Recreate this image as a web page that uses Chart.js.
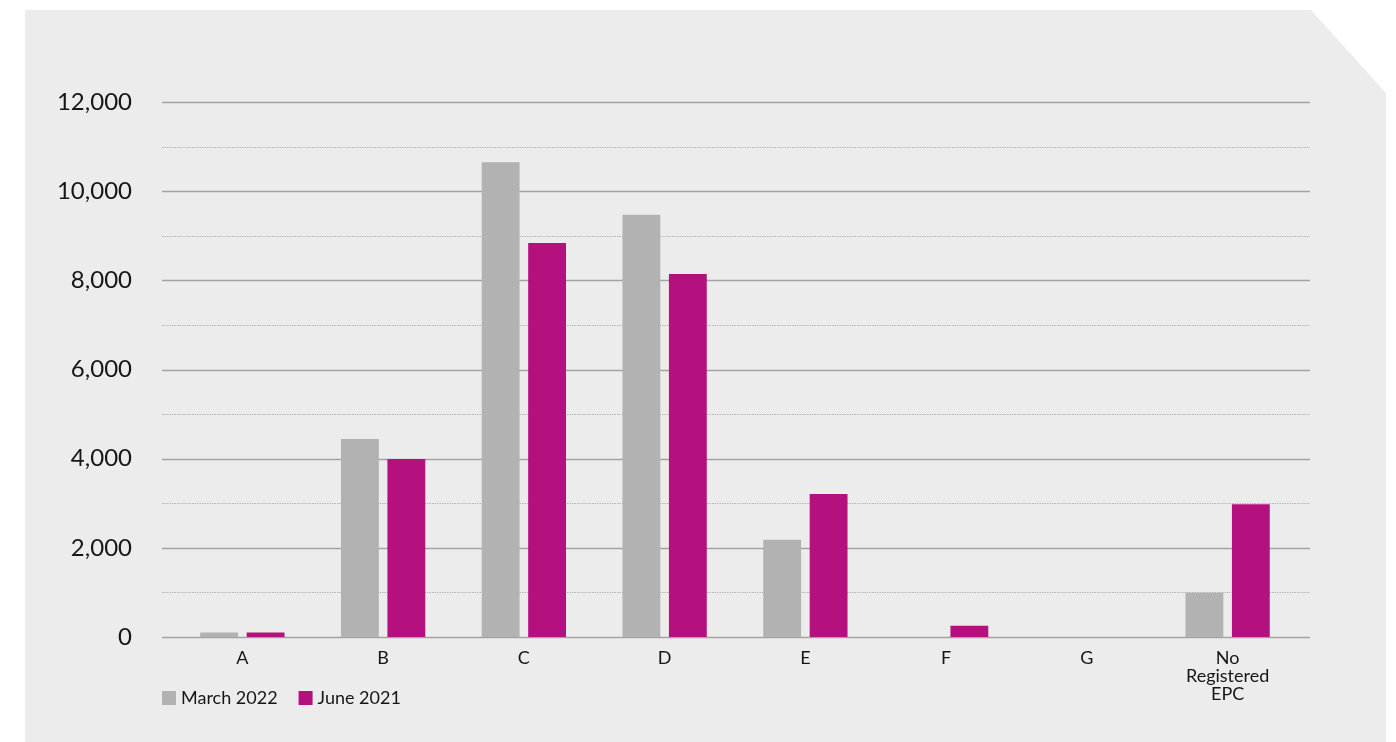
<!DOCTYPE html>
<html>
<head>
<meta charset="utf-8">
<script src="https://cdn.jsdelivr.net/npm/chart.js@4/dist/chart.umd.min.js"></script>
<style>
  html, body { margin: 0; padding: 0; background: #ffffff; }
  #wrap { position: relative; width: 1396px; height: 742px; }
</style>
</head>
<body>
<div id="wrap"><canvas id="epc" width="1396" height="742"></canvas></div>
<script>
// EPC rating counts by band
const categories = ['A', 'B', 'C', 'D', 'E', 'F', 'G', ['No', 'Registered', 'EPC']];
const march2022 = [100, 4440, 10650, 9470, 2180, 0, 0, 990];
const june2021 = [100, 3990, 8840, 8140, 3210, 250, 0, 2980];
const seriesNames = ['March 2022', 'June 2021'];
const seriesColors = ['#b2b2b2', '#b5117e'];
const yMin = 0;
const yMax = 12000;
const yMajorStep = 2000;
const yMinorStep = 1000;

const FONT = 'Lato, "Open Sans", sans-serif';
const TEXT = '#161616';

// Grey panel with a clipped top-right corner
const panelPlugin = {
  id: 'panel',
  beforeDraw(chart) {
    const ctx = chart.ctx;
    ctx.save();
    ctx.fillStyle = '#ececec';
    ctx.beginPath();
    ctx.moveTo(25, 10);
    ctx.lineTo(1311, 10);
    ctx.lineTo(1386, 93);
    ctx.lineTo(1386, 742);
    ctx.lineTo(25, 742);
    ctx.closePath();
    ctx.fill();
    ctx.restore();
  }
};

// Horizontal gridlines: solid at major steps, dotted in between
const gridPlugin = {
  id: 'hgrid',
  beforeDatasetsDraw(chart) {
    const ctx = chart.ctx;
    const y = chart.scales.y;
    const left = chart.chartArea.left - 10;
    const right = chart.chartArea.right + 12;
    ctx.save();
    for (let v = yMin; v <= yMax; v += yMinorStep) {
      const py = Math.round(y.getPixelForValue(v)) + 0.5;
      ctx.beginPath();
      if (v % yMajorStep === 0) {
        ctx.setLineDash([]);
        ctx.strokeStyle = '#a3a3a3';
        ctx.lineWidth = 1.4;
      } else {
        ctx.setLineDash([1.5, 1]);
        ctx.strokeStyle = '#b4b4b4';
        ctx.lineWidth = 1;
      }
      ctx.moveTo(left, py);
      ctx.lineTo(right, py);
      ctx.stroke();
    }
    ctx.restore();
  }
};

// Legend row below the axis
const legendPlugin = {
  id: 'rowLegend',
  afterDraw(chart) {
    const ctx = chart.ctx;
    ctx.save();
    ctx.font = '18px ' + FONT;
    ctx.textBaseline = 'middle';
    ctx.textAlign = 'left';
    let x = 162;
    chart.data.datasets.forEach(ds => {
      ctx.fillStyle = ds.backgroundColor;
      ctx.fillRect(x, 691, 14, 14);
      ctx.fillStyle = TEXT;
      ctx.fillText(ds.label, x + 19, 698);
      x += 19 + ctx.measureText(ds.label).width + 21;
    });
    ctx.restore();
  }
};

new Chart(document.getElementById('epc'), {
  type: 'bar',
  data: {
    labels: categories,
    datasets: [
      { label: seriesNames[0], data: march2022, backgroundColor: seriesColors[0] },
      { label: seriesNames[1], data: june2021, backgroundColor: seriesColors[1] }
    ]
  },
  options: {
    responsive: false,
    animation: false,
    devicePixelRatio: 1,
    categoryPercentage: 0.66,
    barPercentage: 0.815,
    layout: { padding: { left: 40, right: 98, top: 102, bottom: 0 } },
    plugins: {
      legend: { display: false },
      tooltip: { enabled: false }
    },
    scales: {
      x: {
        grid: { display: false },
        border: { display: false },
        afterFit(scale) { scale.height = 105; },
        ticks: {
          color: TEXT,
          padding: 4,
          autoSkip: false,
          maxRotation: 0,
          font: { family: FONT, size: 18, lineHeight: 1.0 }
        }
      },
      y: {
        min: yMin,
        max: yMax,
        grid: { display: false },
        border: { display: false },
        afterFit(scale) { scale.width = 132; },
        ticks: {
          stepSize: yMajorStep,
          color: TEXT,
          padding: 32,
          font: { family: FONT, size: 24 },
          callback: v => Number(v).toLocaleString('en-US')
        }
      }
    }
  },
  plugins: [panelPlugin, gridPlugin, legendPlugin]
});
</script>
</body>
</html>
